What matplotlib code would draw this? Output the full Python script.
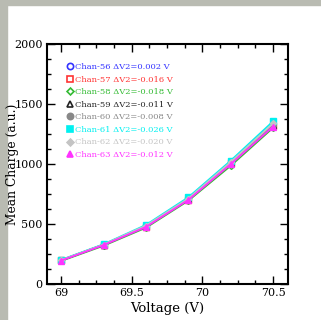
import matplotlib
matplotlib.use("Agg")
import matplotlib.pyplot as plt
from matplotlib.lines import Line2D
from matplotlib.patches import Rectangle
from matplotlib.ticker import MultipleLocator

plt.rcParams['font.family'] = ['DejaVu Serif']

voltage = [69.0, 69.3, 69.6, 69.9, 70.2, 70.5]
channels = ["Chan-56", "Chan-57", "Chan-58", "Chan-59", "Chan-60", "Chan-61", "Chan-62", "Chan-63"]
delta_v2 = ["0.002", "-0.016", "-0.018", "-0.011", "-0.008", "-0.026", "-0.020", "-0.012"]
charges = [
    [198, 328, 482, 708, 1012, 1330],
    [196, 326, 478, 704, 1005, 1320],
    [192, 319, 469, 694, 985, 1302],
    [197, 327, 480, 706, 1008, 1325],
    [197, 327, 480, 706, 1008, 1326],
    [201, 331, 492, 722, 1027, 1355],
    [199, 329, 486, 712, 1016, 1338],
    [195, 324, 475, 700, 998, 1311],
]
colors = ["#3333ff", "#ff3333", "#33bb33", "#222222", "#888888", "#00f0f0", "#c4c4c4", "#ff33ff"]
markers = ["o", "s", "D", "^", "o", "s", "D", "^"]
filled = [False, False, False, False, True, True, True, True]
msizes = [4, 4, 3, 4, 4, 4, 3, 4]

fig = plt.figure(figsize=(3.21, 3.20), dpi=100)
fig.patches.append(Rectangle((0, 1 - 5/320), 1, 5/320, transform=fig.transFigure,
                             color="#b9bbb2", zorder=-5))
fig.patches.append(Rectangle((0, 0), 7/321, 1, transform=fig.transFigure,
                             color="#b9bbb2", zorder=-5))

ax = fig.add_axes([47/321, 36/320, 241/321, 240/320])

for ch, vals, c, m, f, ms in zip(channels, charges, colors, markers, filled, msizes):
    ax.plot(voltage, vals, color=c, lw=1.3, marker=m, ms=ms,
            mfc=c if f else "none", mec=c, mew=1.0)

handles = []
labels = []
for ch, dv, c, m, f, ms in zip(channels, delta_v2, colors, markers, filled, msizes):
    handles.append(Line2D([], [], ls="none", marker=m, ms=ms + 0.5, color=c,
                          mfc=c if f else "none", mec=c, mew=1.2))
    labels.append(f"{ch} \u0394V2={dv} V")
leg = ax.legend(handles, labels, loc="upper left", frameon=False, fontsize=6,
                labelcolor=colors, handlelength=0.6, handletextpad=0.3,
                labelspacing=0.55, borderaxespad=0.0,
                bbox_to_anchor=(0.07, 0.935))

ax.set_xlim(68.9, 70.606)
ax.set_ylim(0, 2000)
ax.xaxis.set_major_locator(MultipleLocator(0.5))
ax.xaxis.set_minor_locator(MultipleLocator(0.125))
ax.yaxis.set_major_locator(MultipleLocator(500))
ax.yaxis.set_minor_locator(MultipleLocator(125))
ax.set_xticks([69, 69.5, 70, 70.5])
ax.set_xticklabels(["69", "69.5", "70", "70.5"])
ax.tick_params(which="both", direction="in", top=True, right=True, width=1.0,
               labelsize=8, pad=3)
ax.tick_params(which="major", length=6)
ax.tick_params(which="minor", length=3)
for s in ax.spines.values():
    s.set_linewidth(1.5)

ax.set_xlabel("Voltage (V)", fontsize=9.5, labelpad=3)
ax.set_ylabel("Mean Charge (a.u.)", fontsize=8.8)
ax.yaxis.set_label_coords((19 - 47) / 241, 0.5)

fig.savefig("out.png", dpi=100)
